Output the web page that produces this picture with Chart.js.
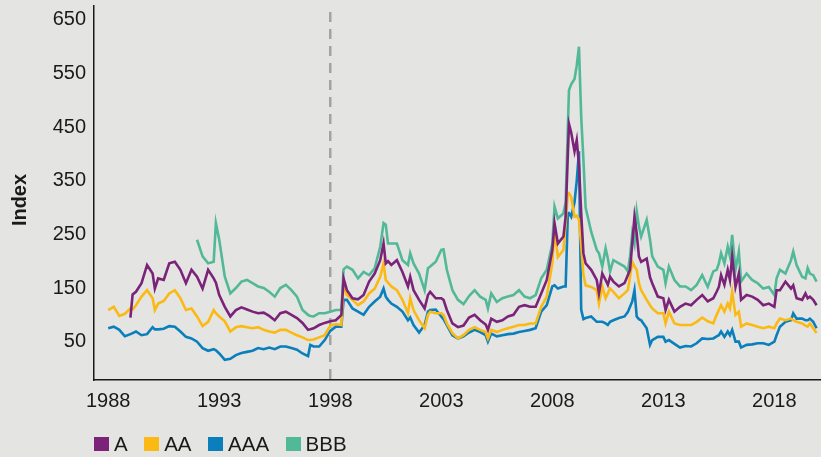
<!DOCTYPE html>
<html>
<head>
<meta charset="utf-8">
<script src="https://cdn.jsdelivr.net/npm/chart.js@4.4.1/dist/chart.umd.min.js"></script>
<style>
  html, body { margin: 0; padding: 0; background: #e4e4e2; }
  #wrap { position: relative; width: 821px; height: 457px; }
  #legend { position: absolute; left: 94px; top: 432px; height: 24px; display: flex; align-items: center;
            font: 20.5px "Liberation Sans", Arial, sans-serif; color: #1a1a1a; line-height: 24px; }
  .item { display: flex; align-items: center; margin-right: 16.5px; }
  .box { width: 15px; height: 14.5px; margin-right: 5px; }
</style>
</head>
<body>
<div id="wrap">
  <canvas id="myChart" width="821" height="457"></canvas>
  <div id="legend"></div>
</div>
<script>
// dates as decimal years
var dates = [
  1988.0,1988.25,1988.5,1988.75,1989.0,1989.1,1989.25,1989.5,1989.75,1990.0,
  1990.1,1990.25,1990.5,1990.75,1991.0,1991.25,1991.5,1991.75,1992.0,1992.25,
  1992.5,1992.75,1992.85,1993.0,1993.25,1993.5,1993.75,1994.0,1994.25,1994.5,
  1994.75,1995.0,1995.25,1995.5,1995.75,1996.0,1996.25,1996.5,1996.75,1997.0,
  1997.1,1997.25,1997.5,1997.75,1998.0,1998.25,1998.5,1998.6,1998.75,1999.0,
  1999.25,1999.5,1999.75,2000.0,2000.25,2000.4,2000.5,2000.6,2000.75,2001.0,
  2001.25,2001.5,2001.6,2001.75,2002.0,2002.25,2002.4,2002.5,2002.75,2003.0,
  2003.1,2003.25,2003.5,2003.75,2004.0,2004.25,2004.5,2004.75,2005.0,2005.1,
  2005.25,2005.5,2005.75,2006.0,2006.25,2006.5,2006.75,2007.0,2007.25,2007.5,
  2007.75,2008.0,2008.1,2008.25,2008.5,2008.6,2008.7,2008.75,2008.85,2009.0,
  2009.1,2009.2,2009.3,2009.4,2009.5,2009.75,2010.0,2010.1,2010.25,2010.4,
  2010.5,2010.6,2010.75,2011.0,2011.25,2011.4,2011.5,2011.6,2011.7,2011.8,
  2011.9,2012.0,2012.25,2012.4,2012.5,2012.75,2013.0,2013.1,2013.25,2013.5,
  2013.75,2014.0,2014.25,2014.5,2014.75,2015.0,2015.25,2015.4,2015.5,2015.6,
  2015.75,2015.9,2016.0,2016.1,2016.25,2016.4,2016.5,2016.75,2017.0,2017.25,
  2017.5,2017.75,2018.0,2018.1,2018.25,2018.5,2018.75,2018.85,2019.0,2019.25,
  2019.4,2019.5,2019.6,2019.75,2019.9
];

var seriesA = [
  null,null,null,null,95,138,143,159,193,177,
  149,168,165,196,199,184,159,184,171,149,
  184,168,160,137,115,97,109,114,110,106,
  103,104,98,90,103,106,100,94,85,72,
  73,75,81,85,88,90,100,168,146,131,
  129,137,162,177,202,233,196,200,193,202,
  180,153,171,146,128,112,137,143,131,131,
  128,109,84,77,80,95,100,90,82,72,
  93,87,90,97,100,115,118,115,115,140,
  165,221,271,233,246,283,400,456,440,405,
  426,380,290,215,196,184,165,140,177,165,
  156,171,162,153,159,174,184,233,283,252,
  209,199,205,170,159,134,131,109,128,106,
  115,121,118,128,137,125,131,143,152,174,
  156,184,165,209,152,177,128,137,134,128,
  118,121,115,146,146,162,149,155,131,128,
  140,131,134,128,118
];

var seriesAA = [
  109,115,98,102,112,110,118,134,146,131,
  109,121,126,140,146,131,109,112,97,79,
  87,109,103,97,88,69,77,79,77,75,
  77,72,69,67,72,72,67,62,58,53,
  53,54,58,62,80,83,81,156,137,128,
  118,125,140,149,171,196,165,160,153,146,
  128,103,131,109,90,75,100,106,103,103,
  100,84,66,56,62,72,77,72,68,56,
  72,68,72,75,78,81,81,84,84,115,
  134,196,258,208,221,271,327,327,320,283,
  285,278,230,175,155,152,146,121,153,131,
  140,149,143,131,140,146,171,199,190,184,
  159,146,128,118,112,103,103,84,106,84,
  81,81,81,87,95,88,84,100,109,118,
  106,121,112,143,100,106,78,84,81,78,
  75,78,75,84,93,90,93,90,87,84,
  80,78,84,75,66
];

var seriesAAA = [
  75,78,72,60,64,66,69,62,64,77,
  73,73,74,79,78,69,59,56,50,38,
  33,36,34,28,16,18,25,29,31,33,
  38,36,39,36,41,41,38,35,28,23,
  44,41,41,53,70,78,78,128,128,112,
  106,100,115,125,134,149,134,128,121,115,
  106,90,95,81,67,81,106,109,110,97,
  92,81,62,56,60,67,72,68,62,50,
  65,60,62,64,65,68,70,72,75,106,
  118,153,155,149,153,153,290,290,283,310,
  350,405,110,92,94,97,87,87,87,84,
  81,87,90,94,97,105,115,125,146,97,
  92,90,75,44,53,59,59,50,53,46,
  39,42,41,47,56,55,56,60,62,69,
  59,69,62,72,50,50,39,44,45,47,
  47,44,50,62,78,87,90,103,93,93,
  90,90,93,87,75
];

var seriesBBB = [
  null,null,null,null,null,null,null,null,null,null,
  null,null,null,null,null,null,null,null,240,209,
  196,199,271,240,171,140,150,162,165,159,
  153,150,143,134,150,156,146,134,109,100,
  98,97,103,103,106,109,109,185,190,184,
  168,180,174,187,227,271,268,233,233,233,
  202,193,215,196,177,146,187,190,199,221,
  222,184,146,128,120,135,146,134,128,112,
  140,124,131,134,137,146,134,131,137,168,
  184,233,302,280,289,310,450,519,530,540,
  565,600,470,390,300,255,221,215,190,224,
  205,181,202,196,190,181,209,252,233,293,
  265,246,277,240,209,190,184,159,190,165,
  153,153,146,156,174,152,181,184,196,215,
  196,227,209,249,184,218,162,177,165,159,
  149,152,137,168,184,177,202,218,193,171,
  168,187,177,174,162
];

var seriesNames = ['A', 'AA', 'AAA', 'BBB'];
var seriesColors = ['#7b2378', '#fbb913', '#0a7fbc', '#52b998'];
var xTicks = [1988, 1993, 1998, 2003, 2008, 2013, 2018];
var yTicks = [50, 150, 250, 350, 450, 550, 650];
var markerYear = 1998;

function toPoints(values) {
  return dates.map(function (d, i) { return { x: d, y: values[i] }; });
}

var allSeries = [seriesA, seriesAA, seriesAAA, seriesBBB];
var datasets = allSeries.map(function (s, i) {
  return {
    label: seriesNames[i],
    data: toPoints(s),
    borderColor: seriesColors[i],
    backgroundColor: seriesColors[i],
    borderWidth: 2.6,
    pointRadius: 0,
    tension: 0,
    spanGaps: true
  };
});

var extras = {
  id: 'extras',
  beforeDatasetsDraw: function (chart) {
    var ctx = chart.ctx, area = chart.chartArea;
    var x = chart.scales.x.getPixelForValue(markerYear);
    ctx.save();
    ctx.strokeStyle = '#a3a3a3';
    ctx.lineWidth = 2.5;
    ctx.setLineDash([10, 7]);
    ctx.beginPath();
    ctx.moveTo(x, area.top + 6);
    ctx.lineTo(x, area.bottom);
    ctx.stroke();
    ctx.restore();
  },
  afterDraw: function (chart) {
    var ctx = chart.ctx, area = chart.chartArea;
    ctx.save();
    ctx.translate(20.7, (area.top + area.bottom) / 2 + 7);
    ctx.rotate(-Math.PI / 2);
    ctx.font = 'bold 20px "Liberation Sans", Arial, sans-serif';
    ctx.fillStyle = '#1a1a1a';
    ctx.textAlign = 'center';
    ctx.textBaseline = 'middle';
    ctx.fillText('Index', 0, 0);
    ctx.restore();
  }
};

var tickFont = { family: '"Liberation Sans", Arial, sans-serif', size: 20 };

var ctx = document.getElementById('myChart').getContext('2d');
var chart = new Chart(ctx, {
  type: 'line',
  data: { datasets: datasets },
  options: {
    responsive: false,
    animation: false,
    layout: { padding: { top: 6, left: 0, right: 0, bottom: 0 } },
    plugins: { legend: { display: false }, tooltip: { enabled: false } },
    scales: {
      x: {
        type: 'linear',
        min: 1987.36,
        max: 2020.1,
        grid: { display: false, drawTicks: false },
        border: { display: true, color: '#1a1a1a', width: 1.5 },
        afterBuildTicks: function (s) { s.ticks = xTicks.map(function (v) { return { value: v }; }); },
        afterFit: function (s) { s.height = 77; s.paddingLeft = 0; s.paddingRight = 0; },
        ticks: {
          font: tickFont, color: '#1a1a1a', padding: 9, maxRotation: 0, autoSkip: false,
          callback: function (v) { return String(v); }
        }
      },
      y: {
        type: 'linear',
        min: -21.5,
        max: 676,
        grid: { display: false, drawTicks: false },
        border: { display: true, color: '#1a1a1a', width: 1.5 },
        afterBuildTicks: function (s) { s.ticks = yTicks.map(function (v) { return { value: v }; }); },
        afterFit: function (s) { s.width = 94; s.paddingTop = 0; s.paddingBottom = 0; },
        ticks: { font: tickFont, color: '#1a1a1a', padding: 8 }
      }
    }
  },
  plugins: [extras]
});

// html legend
var legend = document.getElementById('legend');
datasets.forEach(function (ds) {
  var item = document.createElement('span');
  item.className = 'item';
  var box = document.createElement('span');
  box.className = 'box';
  box.style.background = ds.borderColor;
  item.appendChild(box);
  item.appendChild(document.createTextNode(ds.label));
  legend.appendChild(item);
});
</script>
</body>
</html>
